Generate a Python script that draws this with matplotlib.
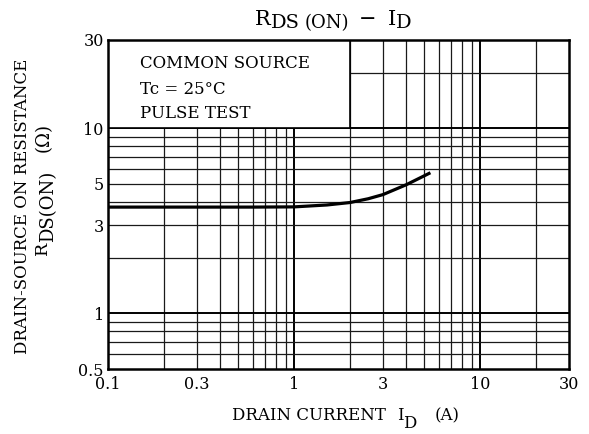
import matplotlib
matplotlib.use("Agg")
import matplotlib.pyplot as plt
from matplotlib.patches import Rectangle

# Data
drain_current = [0.1, 0.3, 0.6, 1.0, 1.5, 2.0, 2.5, 3.0, 4.0, 5.4]
rds_on = [3.75, 3.75, 3.75, 3.76, 3.85, 3.97, 4.16, 4.38, 4.95, 5.75]

x_ticks = [0.1, 0.3, 1, 3, 10, 30]
x_tick_labels = ["0.1", "0.3", "1", "3", "10", "30"]
y_ticks = [0.5, 1, 3, 5, 10, 30]
y_tick_labels = ["0.5", "1", "3", "5", "10", "30"]

x_grid_major = [1, 10]
x_grid_minor = [0.2, 0.3, 0.4, 0.5, 0.6, 0.7, 0.8, 0.9, 2, 3, 4, 5, 6, 7, 8, 9, 20]
y_grid_major = [1, 10]
y_grid_minor = [0.6, 0.7, 0.8, 0.9, 2, 3, 4, 5, 6, 7, 8, 9, 20]

notes = ["COMMON SOURCE", "Tc = 25°C", "PULSE TEST"]
note_y = [22.3, 16.2, 12.0]

plt.rcParams['font.family'] = ['DejaVu Serif']
plt.rcParams['mathtext.fontset'] = 'dejavuserif'

W, H = 589, 434
fig = plt.figure(figsize=(W / 100, H / 100), dpi=100)
ax = fig.add_axes([108 / W, 1 - 369 / H, (569 - 108) / W, (369 - 40) / H])
ax.set_xscale('log')
ax.set_yscale('log')
ax.set_xlim(0.1, 30)
ax.set_ylim(0.5, 30)

gc = '#1a1a1a'
for xv in x_grid_minor:
    ax.axvline(xv, color=gc, lw=0.9, zorder=1)
for xv in x_grid_major:
    ax.axvline(xv, color='black', lw=1.4, zorder=1)
for yv in y_grid_minor:
    ax.axhline(yv, color=gc, lw=0.9, zorder=1)
for yv in y_grid_major:
    ax.axhline(yv, color='black', lw=1.4, zorder=1)

# white note box covering the upper-left grid
ax.add_patch(Rectangle((0.1, 10), 2 - 0.1, 30 - 10, facecolor='white',
                       edgecolor='black', lw=1.2, zorder=2))

ax.plot(drain_current, rds_on, color='black', lw=2.3, zorder=3,
        solid_capstyle='butt')

ax.set_xticks(x_ticks)
ax.set_xticklabels(x_tick_labels)
ax.set_yticks(y_ticks)
ax.set_yticklabels(y_tick_labels)
ax.minorticks_off()
ax.tick_params(length=0, labelsize=11.5)
ax.tick_params(axis='x', pad=5)
ax.tick_params(axis='y', pad=3)
for s in ax.spines.values():
    s.set_linewidth(1.8)
    s.set_zorder(4)

for t, yv in zip(notes, note_y):
    ax.text(0.1486, yv, t, fontsize=12, va='center', ha='left', zorder=5)

renderer = fig.canvas.get_renderer()


def place_runs(x, y, pieces, rot=0):
    """Place text runs; x, y in pixels from top-left, y is the baseline."""
    for text, size, drop, gap in pieces:
        if rot == 0:
            x += gap
            t = fig.text(x / W, 1 - (y + drop) / H, text, fontsize=size,
                         ha='left', va='baseline')
            x += t.get_window_extent(renderer).width
        else:
            y -= gap
            t = fig.text((x + drop) / W, 1 - y / H, text, fontsize=size,
                         rotation=90, rotation_mode='anchor',
                         ha='left', va='baseline')
            y -= t.get_window_extent(renderer).height


# title
place_runs(255, 25, [("R", 15, 0, 0), ("DS", 14, 3, 0), ("(ON)", 13, 3, 5),
                     ("−", 15, 0, 10), ("I", 15, 0, 11), ("D", 14, 3, 0)])
# x label
place_runs(232, 420, [("DRAIN CURRENT", 12, 0, 0), ("I", 12, 0, 11),
                      ("D", 12, 8, 0), ("(A)", 12, 0, 18)])
# y label
fig.text(27 / W, 1 - 206 / H, "DRAIN-SOURCE ON RESISTANCE", rotation=90,
         rotation_mode='anchor', fontsize=12, ha='center', va='baseline')
place_runs(47, 255, [("R", 12.5, 0, 0), ("DS(ON)", 13, 6, 0),
                     ("(Ω)", 13, 2, 18)], rot=90)

fig.savefig("out.png", dpi=100)
